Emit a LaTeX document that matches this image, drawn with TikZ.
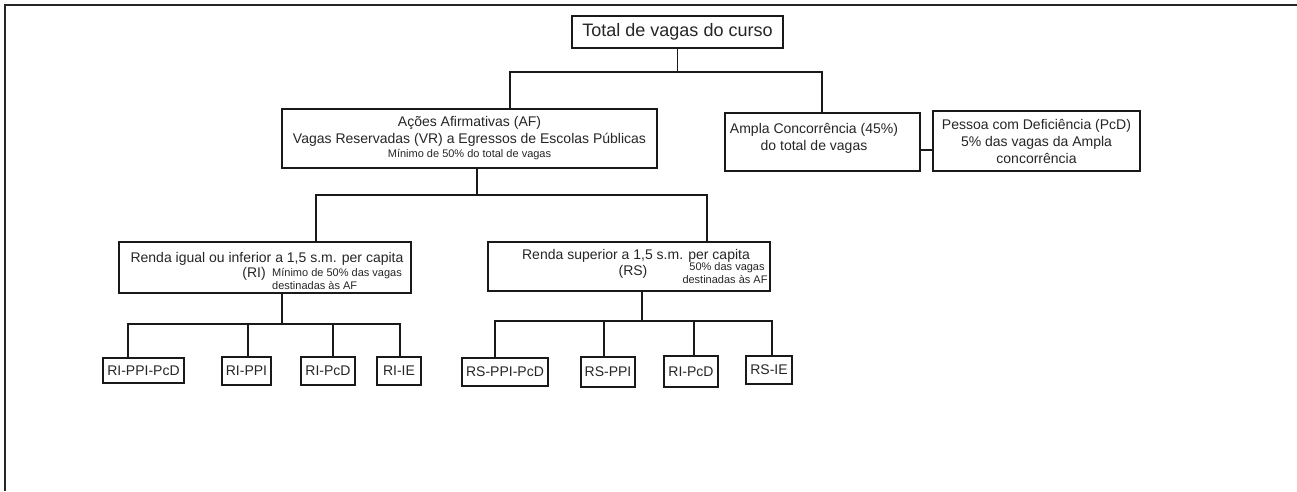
\documentclass[tikz,border=0pt]{standalone}
\usepackage{fontspec}
\setmainfont{Liberation Sans}
\newcommand\fsz[2]{\fontsize{#1}{#2}\selectfont}
\begin{document}
\begin{tikzpicture}[x=1pt,y=-1pt,
  box/.style={draw=black!90, line width=1.6pt, inner sep=0pt, fill=white},
  txt/.style={inner sep=0pt, text=black!85, font=\fsz{14}{17}},
  smalltxt/.style={inner sep=0pt, text=black!85, font=\fsz{11}{12}},
  conn/.style={draw=black!90, line width=1.6pt}]
\useasboundingbox (0,0) rectangle (1297,491);
% frame
\draw[line width=2pt, black!85] (5,491) -- (5,5) -- (1297,5);
% top
\node[box, minimum width=211, minimum height=32, font=\fsz{18}{20}, text=black!85] (top) at (677.5,32) {Total de vagas do curso};
% level 1
\node[box, minimum width=375, minimum height=59, align=center, text=black!85, font=\fsz{14}{17}] (af) at (469.5,138.5)
  {Ações Afirmativas (AF)\\Vagas Reservadas (VR) a Egressos de Escolas Públicas\\[-3pt]{\fsz{11}{12}Mínimo de 50\% do total de vagas}};
\node[box, minimum width=195, minimum height=58] (ac) at (822.5,142) {};
\node[txt, anchor=base] (act1) at (814,133) {Ampla Concorrência (45\%)};
\node[txt, anchor=base] (act2) at (814,150) {do total de vagas};
\node[box, minimum width=207, minimum height=60, align=center, text=black!85, font=\fsz{14}{17}] (pcd) at (1036.5,141)
  {Pessoa com Deficiência (PcD)\\5\% das vagas da Ampla\\concorrência};
% level 2
\node[box, minimum width=292, minimum height=51] (ri) at (265,267.5) {};
\node[txt, anchor=base] (rit1) at (267,262) {Renda igual ou inferior a 1,5 s.m. per capita};
\node[txt, anchor=base east] (rit2) at (266,277) {(RI)};
\node[smalltxt, anchor=base west] (rit3) at (272,276) {Mínimo de 50\% das vagas};
\node[smalltxt, anchor=base west] (rit4) at (272,289) {destinadas às AF};
\node[box, minimum width=282, minimum height=49] (rs) at (629,266.5) {};
\node[txt, anchor=base] (rst1) at (636,259) {Renda superior a 1,5 s.m. per capita};
\node[txt, anchor=base] (rst2) at (633,275) {(RS)};
\node[smalltxt, anchor=base] (rst3) at (727,270) {50\% das vagas};
\node[smalltxt, anchor=base] (rst4) at (725,283) {destinadas às AF};
% leaves
\node[box, minimum width=81, minimum height=25, txt] (l1) at (143.5,370.5) {RI-PPI-PcD};
\node[box, minimum width=49, minimum height=28, txt] (l2) at (246.5,371) {RI-PPI};
\node[box, minimum width=54, minimum height=28, txt] (l3) at (328,371) {RI-PcD};
\node[box, minimum width=44, minimum height=28, txt] (l4) at (399,371) {RI-IE};
\node[box, minimum width=86, minimum height=28, txt] (l5) at (505,372) {RS-PPI-PcD};
\node[box, minimum width=54, minimum height=30, txt] (l6) at (608,372) {RS-PPI};
\node[box, minimum width=54, minimum height=31, txt] (l7) at (691,371.5) {RI-PcD};
\node[box, minimum width=46, minimum height=28, txt] (l8) at (769,370) {RS-IE};
% connectors
\coordinate (b0L) at (510,72); \coordinate (b0R) at (822,72);
\draw[conn] (top.south) -- (top.south |- b0L);
\draw[conn] (af.north -| b0L) -- (b0L) -- (b0R) -- (ac.north -| b0R);
\draw[conn] ([yshift=-8pt]ac.east) -- ([yshift=-8pt]ac.east -| pcd.west);
\coordinate (b1L) at (316,195); \coordinate (b1M) at (477,195); \coordinate (b1R) at (707,195);
\draw[conn] (af.south -| b1M) -- (b1M);
\draw[conn] (ri.north -| b1L) -- (b1L) -- (b1R) -- (rs.north -| b1R);
\coordinate (b2L) at (128,324); \coordinate (b2M) at (282,324); \coordinate (b2a) at (248,324);
\coordinate (b2b) at (333,324); \coordinate (b2R) at (400,324);
\draw[conn] (ri.south -| b2M) -- (b2M);
\draw[conn] (l1.north -| b2L) -- (b2L) -- (b2R) -- (l4.north -| b2R);
\draw[conn] (b2a) -- (l2.north -| b2a);
\draw[conn] (b2b) -- (l3.north -| b2b);
\coordinate (b3L) at (495,321); \coordinate (b3M) at (642,321); \coordinate (b3a) at (604,321);
\coordinate (b3b) at (694,321); \coordinate (b3R) at (772,321);
\draw[conn] (rs.south -| b3M) -- (b3M);
\draw[conn] (l5.north -| b3L) -- (b3L) -- (b3R) -- (l8.north -| b3R);
\draw[conn] (b3a) -- (l6.north -| b3a);
\draw[conn] (b3b) -- (l7.north -| b3b);
\end{tikzpicture}
\end{document}
